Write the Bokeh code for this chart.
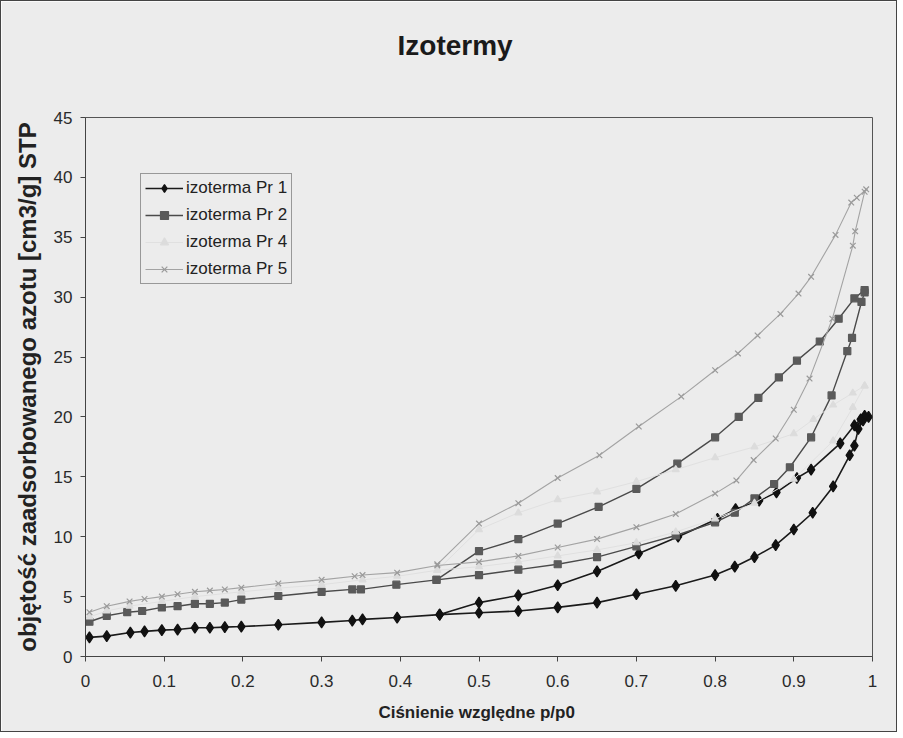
from bokeh.plotting import figure
from bokeh.models import Range1d, FixedTicker, NumeralTickFormatter, Legend, LegendItem, Title
from bokeh.embed import file_html
from bokeh.resources import INLINE

title_text = "Izotermy"
x_label = "Ciśnienie  względne p/p0"
y_label = "objętość zaadsorbowanego azotu [cm3/g] STP"
x_ticks = [0, 0.1, 0.2, 0.3, 0.4, 0.5, 0.6, 0.7, 0.8, 0.9, 1.0]
y_ticks = [0, 5, 10, 15, 20, 25, 30, 35, 40, 45]

series_names = ["izoterma Pr 1", "izoterma Pr 2", "izoterma Pr 4", "izoterma Pr 5"]

# Pr 1: adsorption then desorption
pr1_p = [0.005, 0.027, 0.057, 0.075, 0.097, 0.117, 0.139, 0.158, 0.177, 0.198, 0.245, 0.3, 0.339, 0.352,
         0.396, 0.45, 0.5, 0.55, 0.6, 0.65, 0.7, 0.75, 0.8, 0.825, 0.85, 0.877, 0.9, 0.924, 0.95, 0.971,
         0.977, 0.982, 0.988, 0.995,
         0.99, 0.985, 0.977, 0.959, 0.922, 0.904, 0.878, 0.856, 0.826, 0.803, 0.753, 0.703, 0.65, 0.6,
         0.55, 0.5, 0.45]
pr1_v = [1.6, 1.7, 2.0, 2.1, 2.2, 2.25, 2.4, 2.4, 2.45, 2.5, 2.65, 2.85, 3.0, 3.1,
         3.25, 3.5, 3.65, 3.8, 4.1, 4.5, 5.2, 5.9, 6.8, 7.5, 8.3, 9.3, 10.6, 12.0, 14.2, 16.8,
         17.6, 19.0, 19.7, 20.0,
         20.1, 19.8, 19.3, 17.8, 15.6, 14.9, 13.7, 13.0, 12.3, 11.5, 10.0, 8.6, 7.1, 5.95,
         5.1, 4.5, 3.5]

pr2_p = [0.005, 0.027, 0.053, 0.072, 0.097, 0.117, 0.139, 0.158, 0.177, 0.198, 0.245, 0.3, 0.339, 0.35,
         0.395, 0.446, 0.5, 0.55, 0.6, 0.65, 0.7, 0.75, 0.8, 0.825, 0.85, 0.875, 0.895, 0.922, 0.948,
         0.968, 0.974, 0.986, 0.99,
         0.99, 0.977, 0.957, 0.933, 0.904, 0.881, 0.855, 0.83, 0.8, 0.752, 0.7, 0.652, 0.6, 0.55,
         0.5, 0.446]
pr2_v = [2.9, 3.4, 3.7, 3.8, 4.1, 4.2, 4.4, 4.4, 4.5, 4.75, 5.05, 5.4, 5.6, 5.6,
         6.0, 6.4, 6.8, 7.25, 7.7, 8.3, 9.2, 10.1, 11.2, 12.0, 13.2, 14.4, 15.8, 18.3, 21.8,
         25.5, 26.6, 29.6, 30.4,
         30.6, 29.9, 28.2, 26.3, 24.7, 23.3, 21.6, 20.0, 18.3, 16.1, 14.0, 12.5, 11.1, 9.8,
         8.8, 6.4]

pr4_p = [0.005, 0.027, 0.056, 0.097, 0.139, 0.198, 0.245, 0.3, 0.352, 0.396, 0.447, 0.5, 0.55, 0.6,
         0.65, 0.7, 0.75, 0.8, 0.85, 0.9, 0.95, 0.975, 0.99,
         0.99, 0.975, 0.95, 0.925, 0.9, 0.85, 0.8, 0.75, 0.7, 0.65, 0.6, 0.55, 0.5, 0.447]
pr4_v = [3.3, 3.8, 4.2, 4.6, 5.0, 5.4, 5.7, 6.0, 6.4, 6.7, 7.2, 7.5, 7.9, 8.4,
         8.9, 9.5, 10.4, 11.5, 12.8, 14.8, 18.0, 20.8, 22.6,
         22.6, 22.0, 21.0, 19.8, 18.6, 17.5, 16.6, 15.6, 14.6, 13.75, 13.1, 12.0, 10.6, 7.2]

pr5_p = [0.005, 0.027, 0.056, 0.075, 0.097, 0.117, 0.139, 0.158, 0.177, 0.198, 0.245, 0.3, 0.342, 0.352,
         0.396, 0.447, 0.5, 0.55, 0.6, 0.65, 0.7, 0.75, 0.8, 0.827, 0.849, 0.877, 0.9, 0.92, 0.949,
         0.975, 0.978, 0.99,
         0.992, 0.98, 0.973, 0.953, 0.922, 0.906, 0.883, 0.854, 0.829, 0.8, 0.757, 0.703, 0.653,
         0.6, 0.55, 0.5, 0.447]
pr5_v = [3.7, 4.2, 4.6, 4.8, 5.0, 5.2, 5.4, 5.5, 5.6, 5.75, 6.1, 6.4, 6.7, 6.8,
         7.0, 7.6, 7.9, 8.4, 9.1, 9.8, 10.8, 11.9, 13.6, 14.7, 16.4, 18.2, 20.6, 23.2, 28.2,
         34.3, 35.5, 38.8,
         39.0, 38.3, 37.9, 35.2, 31.7, 30.3, 28.6, 26.8, 25.3, 23.9, 21.7, 19.2, 16.8,
         14.9, 12.8, 11.1, 7.7]

BG = "#ececec"
FONT = "Liberation Sans"

W, H = 897, 732
FL, FR, FT, FB = 84, 871, 115, 655

p = figure(width=W, height=H, x_range=Range1d(0, 1), y_range=Range1d(0, 45),
           output_backend="svg", toolbar_location=None,
           min_border_left=FL, min_border_right=W - FR, min_border_top=FT, min_border_bottom=H - FB)
p.background_fill_color = BG
p.border_fill_color = BG
p.outline_line_color = "#555555"
p.outline_line_width = 1
p.grid.visible = False
p.styles = {"border": "1px solid #444444"}

# title (outermost) plus a blank spacer title next to the frame
p.title.text = title_text
p.title.align = "left"
p.title.offset = 312
p.title.vertical_align = "top"
p.title.standoff = 56
p.title.text_font = FONT
p.title.text_font_size = "28px"
p.title.text_font_style = "bold"
p.title.text_color = "#1a1a1a"
p.add_layout(Title(text=" ", text_font_size="10px", standoff=14), "above")

for ax in (p.xaxis[0], p.yaxis[0]):
    ax.axis_line_color = "#444444"
    ax.major_tick_line_color = "#444444"
    ax.major_tick_in = 0
    ax.major_tick_out = 5
    ax.minor_tick_line_color = None
    ax.major_label_text_font = FONT
    ax.major_label_text_font_size = "17px"
    ax.major_label_text_color = "#2a2a2a"
    ax.axis_label_text_font = FONT
    ax.axis_label_text_font_style = "bold"
    ax.axis_label_text_color = "#222222"

p.xaxis.ticker = FixedTicker(ticks=x_ticks)
p.xaxis.formatter = NumeralTickFormatter(format="0.[0]")
p.xaxis.major_label_standoff = 13
p.xaxis.axis_label = x_label
p.xaxis.axis_label_text_font_size = "17px"
p.xaxis.axis_label_standoff = 13

p.yaxis.ticker = FixedTicker(ticks=y_ticks)
p.yaxis.major_label_standoff = 8
p.yaxis.axis_label = y_label
p.yaxis.axis_label_text_font_size = "24px"
p.yaxis.axis_label_standoff = 10

styles = [
    dict(x=pr1_p, y=pr1_v, line="#1a1a1a", lw=1.6, marker="diamond", size=11, fill="#111111"),
    dict(x=pr2_p, y=pr2_v, line="#4a4a4a", lw=1.4, marker="square", size=7, fill="#5a5a5a"),
    dict(x=pr4_p, y=pr4_v, line="#e0e0e0", lw=1.0, marker="triangle", size=7, fill="#dcdcdc"),
    dict(x=pr5_p, y=pr5_v, line="#a3a3a3", lw=1.1, marker="x", size=8, fill="#9a9a9a"),
]

items = []
for name, s in zip(series_names, styles):
    r1 = p.line(s["x"], s["y"], line_color=s["line"], line_width=s["lw"])
    r2 = p.scatter(s["x"], s["y"], marker=s["marker"], size=s["size"],
                   fill_color=s["fill"], line_color=s["fill"], line_width=1.2)
    items.append(LegendItem(label=name, renderers=[r1, r2]))

legend = Legend(items=items, location=(141 - 86, 657 - 285))
legend.background_fill_color = BG
legend.background_fill_alpha = 1
legend.border_line_color = "#444444"
legend.border_line_width = 1
legend.label_text_font = FONT
legend.label_text_font_size = "17px"
legend.label_text_color = "#222222"
legend.glyph_width = 38
legend.glyph_height = 20
legend.label_height = 20
legend.label_standoff = 3
legend.spacing = 7
legend.padding = 4
legend.margin = 0
p.add_layout(legend, "center")

open("out.html", "w").write(file_html(p, INLINE))
